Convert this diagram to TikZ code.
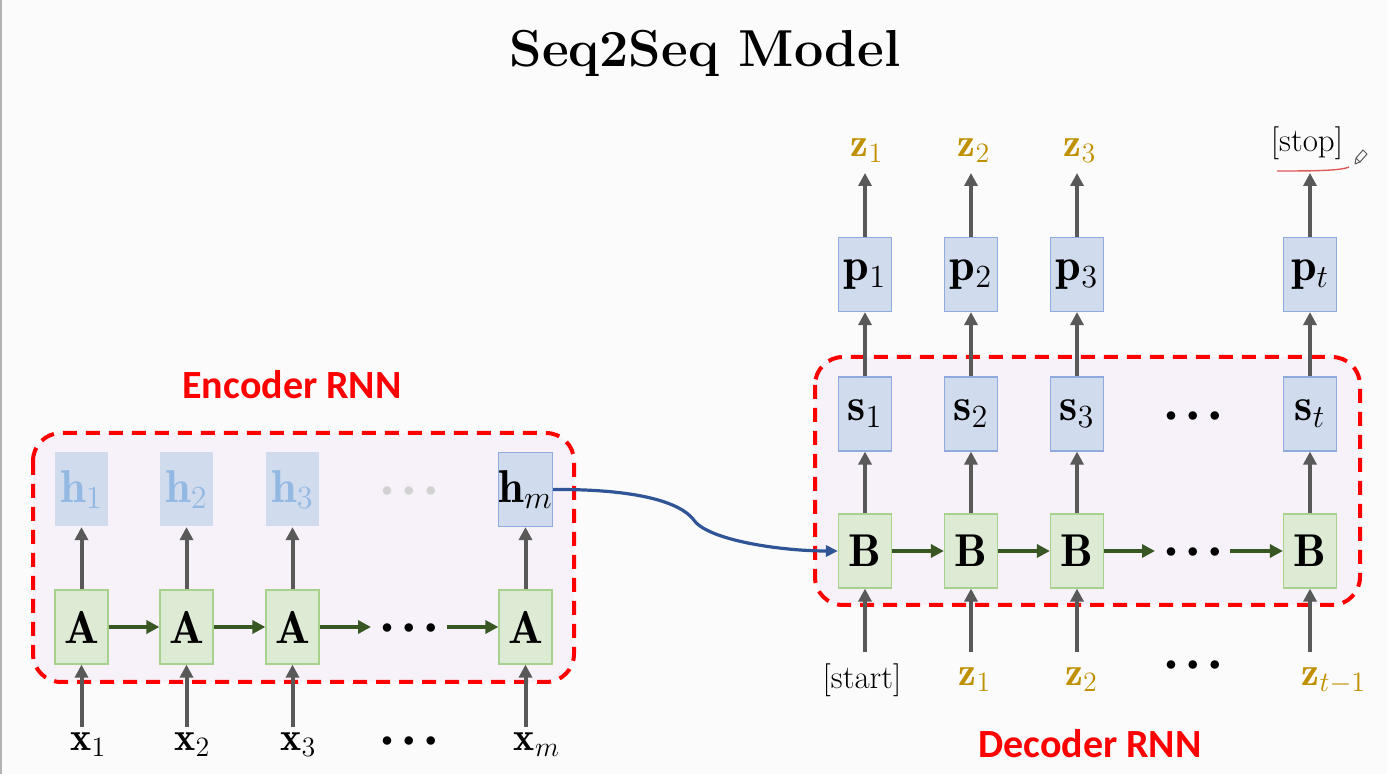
\documentclass[tikz,border=0pt]{standalone}
\usepackage{amsmath}
\usepackage{fix-cm}
\usepackage{fontspec}
\usepackage{tikz}
\usepackage{xcolor}
\usetikzlibrary{arrows.meta}
\newfontfamily\rnnfont{Carlito}

\definecolor{slidebg}{HTML}{FBFBFB}
\definecolor{rnnred}{HTML}{FF0000}
\definecolor{rnnfill}{HTML}{F7F2FA}
\definecolor{cellgreen}{HTML}{DDEBD5}
\definecolor{celledge}{HTML}{A9D18E}
\definecolor{statefill}{HTML}{D0DCEE}
\definecolor{stateedge}{HTML}{8FAADC}
\definecolor{fadedtext}{HTML}{93B8E2}
\definecolor{arrowgray}{HTML}{595959}
\definecolor{recurgreen}{HTML}{385723}
\definecolor{outgold}{HTML}{BF9000}
\definecolor{linkblue}{HTML}{2F5597}
\definecolor{markred}{HTML}{E05A5A}

\begin{document}
\begin{tikzpicture}[x=0.5pt, y=-0.5pt]
    % Style definitions
    \tikzset{
        cell/.style={fill=cellgreen, draw=celledge, line width=0.6pt, minimum width=26.5pt, minimum height=37pt, inner sep=0pt, font=\fontsize{23}{27}\selectfont},
        state/.style={cell, fill=statefill, draw=stateedge},
        fadedstate/.style={state, draw=none, text=fadedtext},
        uparrow/.style={arrowgray, line width=2pt, -{Triangle[length=6.5pt, width=6.5pt]}},
        recur/.style={recurgreen, line width=2.2pt, -{Triangle[length=6.5pt, width=6.5pt]}},
        link/.style={linkblue, line width=1.6pt, -{Triangle[length=6pt, width=5.5pt]}},
        rnnbox/.style={rnnred, fill=rnnfill, line width=2pt, dash pattern=on 7pt off 4.5pt, rounded corners=14pt},
        rnnlabel/.style={text=rnnred, font=\fontsize{20}{24}\rnnfont\bfseries, anchor=base},
        veclabel/.style={inner sep=0pt, font=\fontsize{20}{24}\selectfont},
        toplabel/.style={veclabel, anchor=south, text depth=8pt, text=outgold},
        inlabel/.style={veclabel, anchor=north, text height=16.5pt, text=outgold},
        dots/.style={inner sep=0pt, font=\fontsize{11}{13}\selectfont}
    }

    \useasboundingbox (0,0) rectangle (1387,774);
    \fill[slidebg] (0,0) rectangle (1387,774);
    \draw[gray!60, line width=1pt] (0.5,0) -- (0.5,774);

    \node[anchor=base, font=\fontsize{26}{30}\selectfont\bfseries] (title) at (705,67) {Seq2Seq Model};

    % ==========================================
    % ENCODER
    % ==========================================
    \draw[rnnbox] (33,433) rectangle (574,682);
    \node[rnnlabel] (enclabel) at (292,399) {Encoder RNN};

    \node[cell] (A1) at (81.5,627) {$\mathbf{A}$};
    \node[cell] (A2) at (186.5,627) {$\mathbf{A}$};
    \node[cell] (A3) at (292.5,627) {$\mathbf{A}$};
    \node[cell] (Am) at (525.5,627) {$\mathbf{A}$};

    \node[fadedstate] (h1) at (81.5,489.5) {$\mathbf{h}_1$};
    \node[fadedstate] (h2) at (186.5,489.5) {$\mathbf{h}_2$};
    \node[fadedstate] (h3) at (292.5,489.5) {$\mathbf{h}_3$};
    \node[state] (hm) at (525.5,489.5) {$\mathbf{h}_m$};

    \node[dots, text=gray!35] (hdots) at (409,492) {$\bullet\;\bullet\;\bullet$};
    \node[dots] (adots) at (409,629) {$\bullet\;\bullet\;\bullet$};
    \node[dots] (xdots) at (409,742) {$\bullet\;\bullet\;\bullet$};

    \node[veclabel, anchor=north, text height=11.5pt] (x1) at (88.5,727) {$\mathbf{x}_1$};
    \node[veclabel, anchor=north, text height=11.5pt] (x2) at (192.5,727) {$\mathbf{x}_2$};
    \node[veclabel, anchor=north, text height=11.5pt] (x3) at (298.5,727) {$\mathbf{x}_3$};
    \node[veclabel, anchor=north, text height=11.5pt] (xm) at (537,727) {$\mathbf{x}_m$};

    \draw[uparrow] (x1.north -| A1) -- (A1.south);
    \draw[uparrow] (x2.north -| A2) -- (A2.south);
    \draw[uparrow] (x3.north -| A3) -- (A3.south);
    \draw[uparrow] (xm.north -| Am) -- (Am.south);
    \draw[uparrow] (A1.north) -- (h1.south);
    \draw[uparrow] (A2.north) -- (h2.south);
    \draw[uparrow] (A3.north) -- (h3.south);
    \draw[uparrow] (Am.north) -- (hm.south);

    \coordinate (encgap) at (371,627);
    \coordinate (encresume) at (447,627);
    \draw[recur] (A1) -- (A2);
    \draw[recur] (A2) -- (A3);
    \draw[recur] (A3) -- (encgap);
    \draw[recur] (encresume) -- (Am);

    % ==========================================
    % DECODER
    % ==========================================
    \draw[rnnbox] (815,357) rectangle (1360,605);
    \node[rnnlabel] (declabel) at (1090,757) {Decoder RNN};

    \node[cell] (B1) at (865,551) {$\mathbf{B}$};
    \node[cell] (B2) at (971,551) {$\mathbf{B}$};
    \node[cell] (B3) at (1077,551) {$\mathbf{B}$};
    \node[cell] (Bt) at (1310,551) {$\mathbf{B}$};

    \node[state] (s1) at (865,414) {$\mathbf{s}_1$};
    \node[state] (s2) at (971,414) {$\mathbf{s}_2$};
    \node[state] (s3) at (1077,414) {$\mathbf{s}_3$};
    \node[state] (st) at (1310,414) {$\mathbf{s}_t$};

    \node[state] (p1) at (865,274.5) {$\mathbf{p}_1$};
    \node[state] (p2) at (971,274.5) {$\mathbf{p}_2$};
    \node[state] (p3) at (1077,274.5) {$\mathbf{p}_3$};
    \node[state] (pt) at (1310,274.5) {$\mathbf{p}_t$};

    \node[dots] (sdots) at (1193,417) {$\bullet\;\bullet\;\bullet$};
    \node[dots] (bdots) at (1193,553) {$\bullet\;\bullet\;\bullet$};
    \node[dots] (zdots) at (1193,666) {$\bullet\;\bullet\;\bullet$};

    % outputs
    \node[toplabel] (out1) at (867,173) {$\mathbf{z}_1$};
    \node[toplabel] (out2) at (974,173) {$\mathbf{z}_2$};
    \node[toplabel] (out3) at (1080,173) {$\mathbf{z}_3$};
    \node[toplabel, text=black, text depth=10.5pt, font=\fontsize{16.5}{19}\selectfont] (stop) at (1307,173) {[stop]};

    % inputs
    \node[inlabel, text=black, text height=18pt, font=\fontsize{16.5}{19}\selectfont] (start) at (862,652) {[start]};
    \node[inlabel] (in2) at (975,652) {$\mathbf{z}_1$};
    \node[inlabel] (in3) at (1081.5,652) {$\mathbf{z}_2$};
    \node[inlabel] (int) at (1334,652) {$\mathbf{z}_{t-1}$};

    \draw[uparrow] (start.north -| B1) -- (B1.south);
    \draw[uparrow] (in2.north -| B2) -- (B2.south);
    \draw[uparrow] (in3.north -| B3) -- (B3.south);
    \draw[uparrow] (int.north -| Bt) -- (Bt.south);
    \draw[uparrow] (B1.north) -- (s1.south);
    \draw[uparrow] (B2.north) -- (s2.south);
    \draw[uparrow] (B3.north) -- (s3.south);
    \draw[uparrow] (Bt.north) -- (st.south);
    \draw[uparrow] (s1.north) -- (p1.south);
    \draw[uparrow] (s2.north) -- (p2.south);
    \draw[uparrow] (s3.north) -- (p3.south);
    \draw[uparrow] (st.north) -- (pt.south);
    \draw[uparrow] (p1.north) -- (p1.north |- out1.south);
    \draw[uparrow] (p2.north) -- (p2.north |- out2.south);
    \draw[uparrow] (p3.north) -- (p3.north |- out3.south);
    \draw[uparrow] (pt.north) -- (pt.north |- stop.south);

    \coordinate (decgap) at (1155,551);
    \coordinate (decresume) at (1230,551);
    \draw[recur] (B1) -- (B2);
    \draw[recur] (B2) -- (B3);
    \draw[recur] (B3) -- (decgap);
    \draw[recur] (decresume) -- (Bt);

    % hand-off from encoder to decoder
    \draw[link] (hm.east) .. controls (640,489) and (680,503) .. (693,519) .. controls (706,540) and (780,551) .. (B1.west);

    % pen mark under [stop]
    \draw[markred, line width=0.7pt] (1277,171) .. controls (1310,171) and (1340,171) .. (1349,167);
    \draw[gray!70!black, line width=0.5pt, line join=round] (1355,164) -- (1356,158) -- (1363,150) -- (1367,154) -- (1360,162) -- cycle (1356,158) -- (1360,162);
\end{tikzpicture}
\end{document}
